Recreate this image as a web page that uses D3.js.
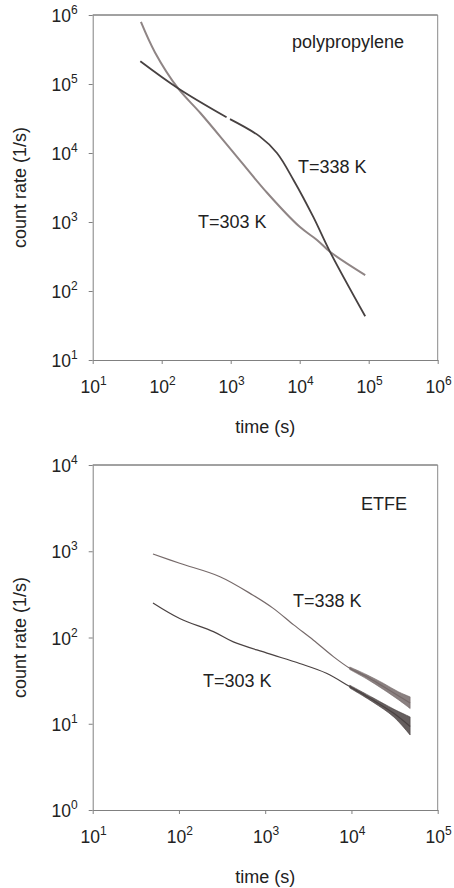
<!DOCTYPE html>
<html lang="en">
<head>
<meta charset="UTF-8">
<title>count rate vs time</title>
<script src="https://d3js.org/d3.v7.min.js"></script>
<style>
  body { margin: 0; background: #fff; }
  text { font-family: "Liberation Sans", Arial, sans-serif; fill: #222; }
</style>
</head>
<body>
<svg id="chart" width="454" height="888"></svg>
<script>
// ---- polypropylene (top) ----
var ppTime303 = [50, 80, 172, 363, 977, 3390, 10000, 17800, 27500, 89000];
var ppRate303 = [794000, 287000, 87000, 38000, 11700, 2630, 850, 550, 370, 170];

// the 338 K run has a short gap near 10^3 s
var ppTime338a = [49, 172, 871];
var ppRate338a = [214000, 87000, 33000];
var ppTime338b = [977, 2630, 4680, 8130, 15800, 27500, 89000];
var ppRate338b = [31000, 17400, 10000, 4070, 1175, 370, 43];

// ---- ETFE (bottom) ----
var etTime338 = [50, 102, 299, 724, 1230, 2140, 3630, 6170, 9550, 15100, 23400, 47900];
var etRate338 = [930, 725, 507, 309, 219, 140, 93, 60, 44, 35, 27, 17.4];
var etTime303 = [50, 102, 251, 427, 1047, 2510, 5130, 9550, 17800, 30900, 47900];
var etRate303 = [251, 166, 117, 89, 66, 50, 38.5, 27, 18.8, 13.2, 9.3];

// scatter of the noisy tails
var etBandTime338 = [9550, 15100, 23400, 35000, 47900];
var etBandLo338 = [42.5, 33, 25, 19, 15];
var etBandHi338 = [45.5, 37, 29.5, 23.5, 20.5];
var etBandTime303 = [9550, 17800, 30900, 47900];
var etBandLo303 = [26, 17.8, 12, 7.4];
var etBandHi303 = [28, 20, 14.8, 12];

var svg = d3.select("#chart");

function pairs(t, r) {
    return t.map(function (d, i) { return [d, r[i]]; });
}

function panel(cfg) {
    var x = d3.scaleLog().domain(cfg.xDomain).range([cfg.left, cfg.right]);
    var y = d3.scaleLog().domain(cfg.yDomain).range([cfg.bottom, cfg.top]);
    var g = svg.append("g");

    // frame: top line dark, right side grey
    g.append("line").attr("x1", cfg.left).attr("x2", cfg.right)
        .attr("y1", cfg.top).attr("y2", cfg.top)
        .attr("stroke", "#444").attr("stroke-width", 1);
    g.append("line").attr("x1", cfg.right).attr("x2", cfg.right)
        .attr("y1", cfg.top).attr("y2", cfg.bottom)
        .attr("stroke", "#8a8a8a").attr("stroke-width", 1);

    var xTicks = d3.range(Math.log10(cfg.xDomain[0]), Math.log10(cfg.xDomain[1]) + 1).map(function (e) { return Math.pow(10, e); });
    var yTicks = d3.range(Math.log10(cfg.yDomain[0]), Math.log10(cfg.yDomain[1]) + 1).map(function (e) { return Math.pow(10, e); });

    var xAxis = g.append("g").attr("transform", "translate(0," + cfg.bottom + ")")
        .call(d3.axisBottom(x).tickValues(xTicks).tickSizeInner(4).tickSizeOuter(0).tickFormat(""));
    var yAxis = g.append("g").attr("transform", "translate(" + cfg.left + ",0)")
        .call(d3.axisLeft(y).tickValues(yTicks).tickSizeInner(4).tickSizeOuter(0).tickFormat(""));
    [xAxis, yAxis].forEach(function (a) {
        a.select(".domain").attr("stroke", "#808080");
        a.selectAll(".tick line").attr("stroke", "#808080");
    });

    xTicks.forEach(function (v) {
        var t = g.append("text").attr("x", x(v) + 1).attr("y", cfg.bottom + 33)
            .attr("text-anchor", "middle").style("font-size", "17.5px");
        t.append("tspan").text("10");
        t.append("tspan").attr("dy", -8).style("font-size", "12px").text(Math.round(Math.log10(v)));
    });
    yTicks.forEach(function (v) {
        var t = g.append("text").attr("x", cfg.left - 15).attr("y", y(v) + 7)
            .attr("text-anchor", "end").style("font-size", "17.5px");
        t.append("tspan").text("10");
        t.append("tspan").attr("dy", -8).style("font-size", "12px").text(Math.round(Math.log10(v)));
    });

    g.append("text").attr("transform", "translate(" + 26 + "," + (cfg.top + cfg.bottom) / 2 + ") rotate(-90)")
        .attr("text-anchor", "middle").style("font-size", "18px").text("count rate (1/s)");
    g.append("text").attr("x", (cfg.left + cfg.right) / 2).attr("y", cfg.bottom + 73)
        .attr("text-anchor", "middle").style("font-size", "18px").text("time (s)");

    var line = d3.line().x(function (d) { return x(d[0]); }).y(function (d) { return y(d[1]); })
        .curve(d3.curveCatmullRom.alpha(0.5));
    var area = d3.area().x(function (d) { return x(d[0]); })
        .y0(function (d) { return y(d[1]); }).y1(function (d) { return y(d[2]); })
        .curve(d3.curveCatmullRom.alpha(0.5));

    cfg.bands.forEach(function (b) {
        var rows = b.t.map(function (d, i) { return [d, b.lo[i], b.hi[i]]; });
        g.append("path").attr("d", area(rows)).attr("fill", b.color).attr("fill-opacity", 0.85)
            .attr("stroke", b.color).attr("stroke-width", 0.6);
    });
    cfg.series.forEach(function (s) {
        g.append("path").attr("d", line(pairs(s.t, s.r)))
            .attr("fill", "none").attr("stroke", s.color).attr("stroke-width", s.width);
    });
    cfg.labels.forEach(function (l) {
        g.append("text").attr("x", l.x).attr("y", l.y).style("font-size", "18px").text(l.text);
    });
}

panel({
    left: 92.7, right: 437.7, top: 15, bottom: 360,
    xDomain: [1e1, 1e6], yDomain: [1e1, 1e6],
    bands: [],
    series: [
        { t: ppTime303, r: ppRate303, color: "#8f8585", width: 2 },
        { t: ppTime338a, r: ppRate338a, color: "#474141", width: 1.8 },
        { t: ppTime338b, r: ppRate338b, color: "#474141", width: 1.8 }
    ],
    labels: [
        { text: "polypropylene", x: 292, y: 48 },
        { text: "T=338 K", x: 298, y: 173 },
        { text: "T=303 K", x: 198, y: 228 }
    ]
});

panel({
    left: 92.7, right: 437.7, top: 465, bottom: 810,
    xDomain: [1e1, 1e5], yDomain: [1e0, 1e4],
    bands: [
        { t: etBandTime338, lo: etBandLo338, hi: etBandHi338, color: "#766a6a" },
        { t: etBandTime303, lo: etBandLo303, hi: etBandHi303, color: "#4a4242" }
    ],
    series: [
        { t: etTime338, r: etRate338, color: "#766a6a", width: 1.2 },
        { t: etTime303, r: etRate303, color: "#4a4242", width: 1.2 }
    ],
    labels: [
        { text: "ETFE", x: 361, y: 510 },
        { text: "T=338 K", x: 293, y: 607 },
        { text: "T=303 K", x: 203, y: 687 }
    ]
});
</script>
</body>
</html>
